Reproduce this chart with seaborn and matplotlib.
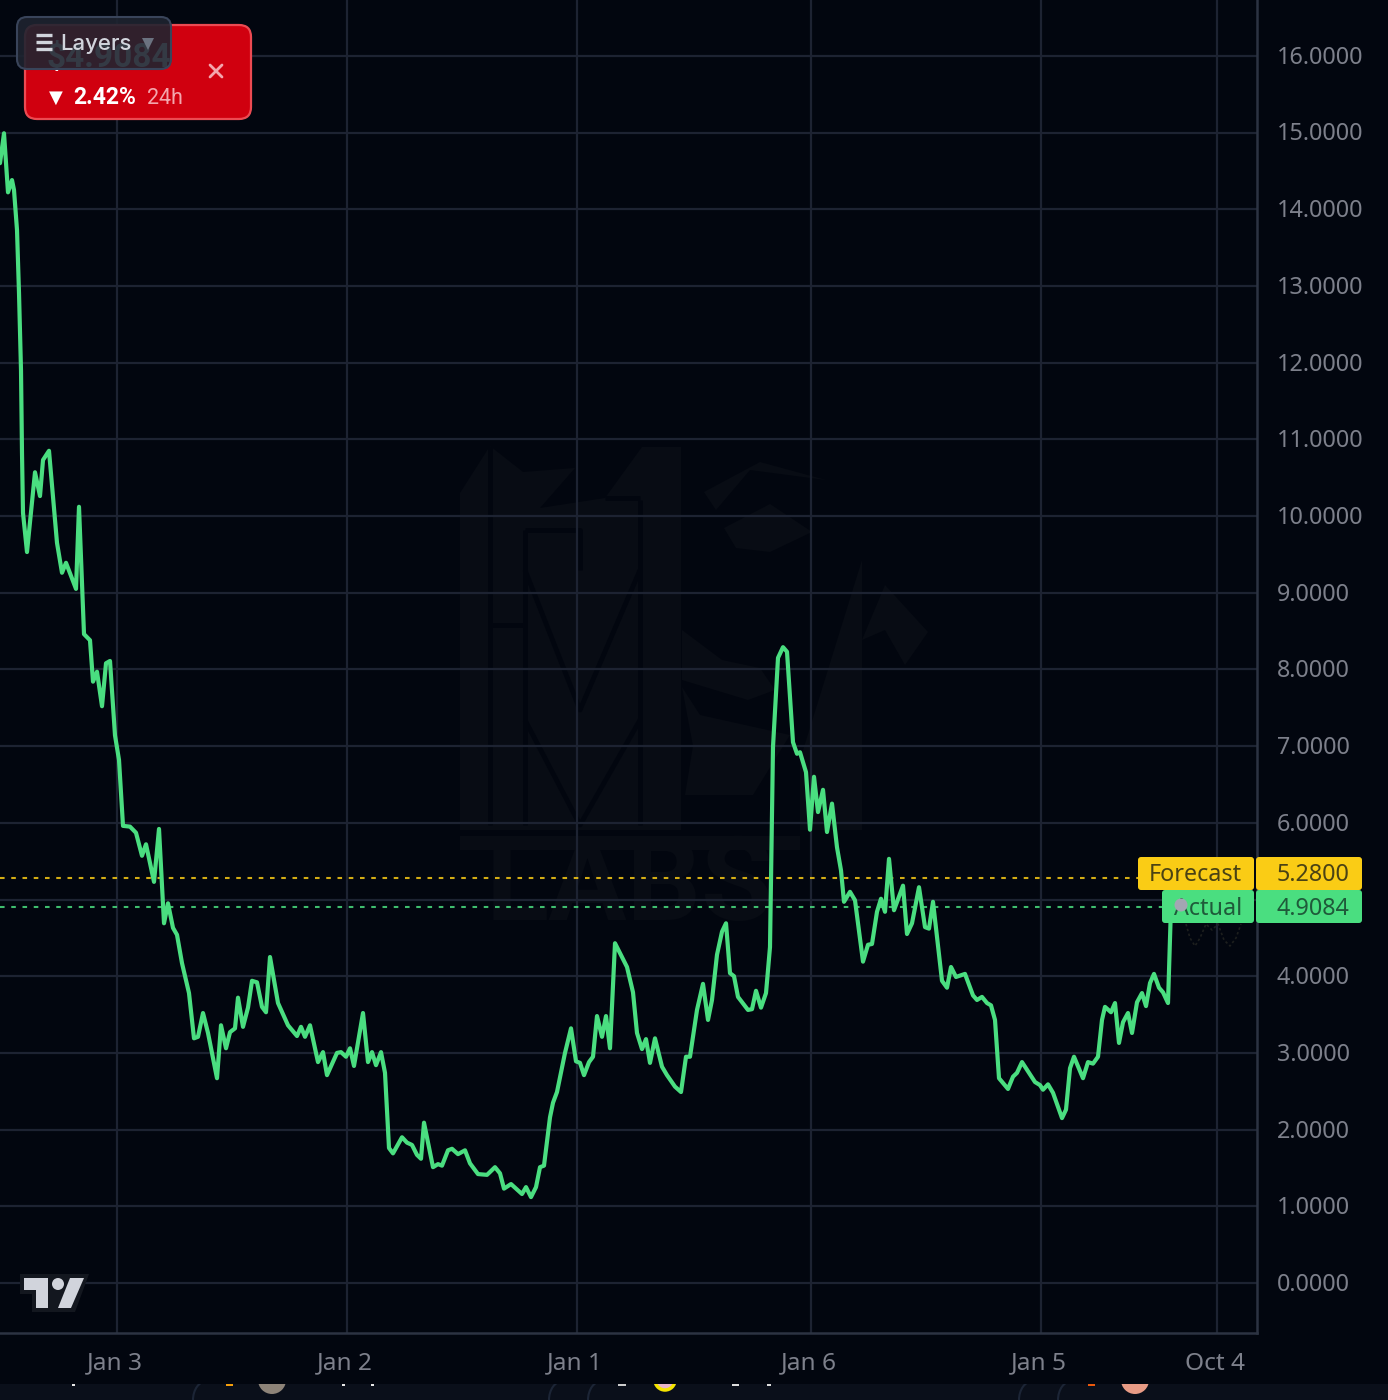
import matplotlib
matplotlib.use("Agg")
import matplotlib.pyplot as plt
from matplotlib.patches import FancyBboxPatch, Polygon, Circle, Rectangle, Arc
from matplotlib.transforms import ScaledTranslation
import pandas as pd
import seaborn as sns

# time axis is in chart units, one unit per screen column of the plot area
time_units = [0, 4, 8, 12, 14, 17, 19, 21, 22, 23, 27, 35, 40, 43, 49, 57, 62, 66, 76, 79,
              84, 90, 93, 97, 102, 106, 110, 115, 119, 123, 130, 136, 142, 146, 154, 159, 164, 168, 173, 177,
              182, 189, 194, 198, 203, 208, 217, 221, 226, 230, 235, 238, 243, 248, 252, 257, 262, 266, 270, 278,
              288, 297, 301, 305, 310, 318, 323, 327, 337, 341, 346, 350, 354, 363, 368, 372, 376, 381, 385, 389,
              393, 402, 407, 412, 417, 421, 424, 433, 438, 442, 448, 452, 458, 465, 470, 478, 487, 495, 500, 504,
              511, 522, 526, 531, 536, 540, 544, 550, 553, 557, 565, 571, 576, 580, 584, 589, 593, 597, 602, 606,
              610, 615, 627, 633, 637, 642, 646, 650, 655, 662, 667, 675, 681, 686, 690, 697, 703, 708, 712, 717,
              722, 726, 730, 734, 738, 748, 752, 756, 761, 766, 770, 773, 778, 783, 787, 793, 797, 800, 806, 810,
              814, 818, 823, 827, 832, 837, 841, 844, 850, 855, 863, 868, 872, 877, 881, 885, 889, 894, 903, 907,
              912, 919, 925, 929, 933, 942, 947, 951, 956, 965, 973, 977, 982, 987, 991, 995, 999, 1008, 1013, 1017,
              1022, 1035, 1040, 1043, 1048, 1053, 1062, 1066, 1070, 1074, 1083, 1088, 1093, 1098, 1102, 1105, 1111, 1115, 1119, 1123,
              1128, 1132, 1137, 1142, 1146, 1150, 1154, 1159, 1163, 1168, 1171]
price = [14.60, 14.99, 14.22, 14.38, 14.25, 13.73, 12.91, 11.90, 10.82, 10.04, 9.53, 10.57, 10.26, 10.73, 10.85, 9.65, 9.26, 9.39, 9.05, 10.12,
         8.46, 8.38, 7.84, 7.97, 7.52, 8.08, 8.11, 7.14, 6.82, 5.96, 5.95, 5.87, 5.57, 5.72, 5.23, 5.92, 4.69, 4.95, 4.63, 4.54,
         4.17, 3.78, 3.19, 3.21, 3.52, 3.26, 2.67, 3.36, 3.06, 3.27, 3.32, 3.72, 3.34, 3.59, 3.94, 3.92, 3.60, 3.53, 4.25, 3.65,
         3.36, 3.22, 3.34, 3.21, 3.36, 2.88, 3.01, 2.71, 3.00, 3.01, 2.95, 3.06, 2.83, 3.52, 2.88, 3.01, 2.84, 3.01, 2.74, 1.76,
         1.69, 1.90, 1.83, 1.80, 1.67, 1.62, 2.09, 1.51, 1.55, 1.53, 1.73, 1.75, 1.68, 1.73, 1.56, 1.42, 1.41, 1.51, 1.43, 1.23,
         1.29, 1.16, 1.25, 1.12, 1.25, 1.51, 1.53, 2.16, 2.35, 2.49, 3.00, 3.32, 2.89, 2.87, 2.71, 2.88, 2.95, 3.48, 3.21, 3.48,
         3.06, 4.43, 4.12, 3.79, 3.26, 3.05, 3.18, 2.87, 3.19, 2.82, 2.71, 2.56, 2.49, 2.95, 2.95, 3.56, 3.90, 3.43, 3.69, 4.28,
         4.58, 4.69, 4.04, 4.00, 3.73, 3.56, 3.57, 3.81, 3.59, 3.78, 4.38, 6.99, 8.15, 8.29, 8.23, 7.05, 6.90, 6.92, 6.66, 5.91,
         6.60, 6.14, 6.43, 5.88, 6.25, 5.68, 5.38, 4.97, 5.10, 4.99, 4.19, 4.41, 4.42, 4.84, 5.01, 4.84, 5.53, 4.86, 5.18, 4.55,
         4.69, 5.16, 4.64, 4.62, 4.97, 3.94, 3.85, 4.12, 3.99, 4.03, 3.75, 3.69, 3.73, 3.65, 3.62, 3.43, 2.67, 2.53, 2.69, 2.74,
         2.88, 2.62, 2.58, 2.52, 2.59, 2.48, 2.15, 2.26, 2.80, 2.95, 2.67, 2.88, 2.86, 2.95, 3.43, 3.60, 3.53, 3.65, 3.13, 3.40,
         3.52, 3.26, 3.66, 3.78, 3.61, 3.91, 4.03, 3.85, 3.79, 3.65, 4.91]

x_ticks = [117, 347, 577, 811, 1041, 1217]
x_labels = ["Jan 3", "Jan 2", "Jan 1", "Jan 6", "Jan 5", "Oct 4"]
y_ticks = list(range(0, 17))
# the 5.0000 label sits behind the price tags, so it never shows
y_labels = ["" if v == 5 else f"{v:.4f}" for v in y_ticks]
forecast = 5.28
actual = 4.9084

BG = "#02060f"
GRID = "#1d2332"
EDGE = "#2c3342"
TXT = "#7d808b"
GREEN = "#4ade80"
YELLOW = "#facc15"
MARK = "#080c14"

sns.set_theme(style="dark", rc={"axes.facecolor": "none", "figure.facecolor": BG})
plt.rcParams["font.family"] = ["Noto Sans", "DejaVu Sans"]

fig = plt.figure(figsize=(13.88, 14), dpi=100)

# screen overlay for watermark and chart furniture, measured in picture pixels
def overlay(z):
    a = fig.add_axes([0, 0, 1, 1], zorder=z)
    a.set_xlim(0, 1388)
    a.set_ylim(1400, 0)
    a.axis("off")
    a.patch.set_alpha(0)
    return a

back = overlay(0)
front = overlay(5)

# watermark
wm = [
    [(460, 493), (490, 446), (523, 472), (575, 468), (540, 508), (605, 498), (642, 447), (681, 447), (681, 830), (460, 830)],
    [(682, 630), (722, 660), (760, 668), (775, 690), (748, 700), (682, 680)],
    [(682, 687), (693, 746), (685, 795), (753, 795), (790, 735), (700, 715)],
    [(704, 492), (760, 462), (826, 480), (750, 470), (716, 510)],
    [(724, 528), (770, 504), (812, 532), (770, 552), (736, 548)],
    [(862, 560), (862, 830), (800, 830), (800, 760)],
    [(862, 640), (885, 585), (928, 632), (905, 665), (885, 630)],
    [(460, 836), (800, 836), (800, 850), (460, 850)],
]
for pts in wm:
    back.add_patch(Polygon(pts, closed=True, fc=MARK, ec="none"))
for seg in [[(490, 446), (490, 825)], [(525, 530), (525, 825)], [(525, 530), (580, 530), (580, 570)],
            [(640, 500), (640, 825)], [(525, 570), (580, 710), (640, 570)], [(525, 720), (580, 825), (640, 720)],
            [(490, 625), (525, 625)], [(605, 498), (640, 498)]]:
    back.plot(*zip(*seg), color=BG, lw=3.5, solid_capstyle="butt")
back.text(630, 888, "LABS", color=MARK, fontsize=84, fontweight="bold", family="Roboto", ha="center", va="center")

ax = fig.add_axes([0, 1 - 1333 / 1400, 1257 / 1388, 1333 / 1400], zorder=2)
ax.set_xlim(0, 1257)
ax.set_ylim((1283 - 1333) / 76.7, 1283 / 76.7)

df = pd.DataFrame({"time": time_units, "price": price})
ax.axhline(forecast, color=YELLOW, lw=1.5, dashes=(2.2, 3.2), alpha=0.85, zorder=2)
ax.axhline(actual, color=GREEN, lw=1.5, dashes=(2.2, 3.2), alpha=0.85, zorder=2)
sns.lineplot(data=df, x="time", y="price", color=GREEN, linewidth=3.0, estimator=None,
             sort=False, ax=ax, zorder=3)

ax.set_xticks(x_ticks)
ax.set_xticklabels(x_labels)
ax.yaxis.tick_right()
ax.set_yticks(y_ticks)
ax.set_yticklabels(y_labels)
ax.set_xlabel("")
ax.set_ylabel("")
ax.grid(True, color=GRID, lw=1.6)
ax.set_axisbelow(True)
ax.tick_params(axis="y", length=0, pad=14.3, labelsize=16.8, labelcolor=TXT)
ax.tick_params(axis="x", length=0, pad=13.5, labelsize=17.6, labelcolor=TXT)
nudge = ScaledTranslation(-2 / 100, 0, fig.dpi_scale_trans)
for lab in ax.get_xticklabels():
    lab.set_transform(lab.get_transform() + nudge)
nudge_up = ScaledTranslation(0, 1 / 100, fig.dpi_scale_trans)
for lab in ax.get_yticklabels():
    lab.set_transform(lab.get_transform() + nudge_up)
for side in ["top", "left"]:
    ax.spines[side].set_visible(False)
for side in ["right", "bottom"]:
    ax.spines[side].set_color(EDGE)
    ax.spines[side].set_linewidth(1.8)

# cut off page content below the chart
back.add_patch(Rectangle((0, 1384), 1388, 16, fc="#0a0f1a", ec="none"))
for cx, r in [(207, 14), (563, 14), (602, 14), (1033, 14), (1072, 14)]:
    back.add_patch(Arc((cx, 1400), 2 * r, 2 * r + 10, theta1=180, theta2=270, color="#1c2536", lw=1.5))
for x0, w, col in [(72, 3, "#e8e8e8"), (226, 7, "#f59e0b"), (342, 3, "#e8e8e8"), (371, 3, "#e8e8e8"),
                   (618, 8, "#cccccc"), (732, 7, "#dddddd"), (767, 4, "#dddddd"), (1088, 7, "#ea580c")]:
    back.add_patch(Rectangle((x0, 1384), w, 2, fc=col, ec="none"))
back.add_patch(Circle((272, 1380), 14, fc="#8d8378", ec="none"))
back.add_patch(Circle((665, 1380), 10, fc="#e8b4c8", ec="#f5e400", lw=2.5))
back.add_patch(Circle((1135, 1380), 14, fc="#e89b85", ec="none"))
back.add_patch(Rectangle((0, 1334), 1388, 50, fc=BG, ec="none", zorder=3))

# tradingview logo
front.add_patch(Polygon([(20, 1274), (89, 1274), (75, 1312), (32, 1312), (32, 1294), (20, 1294)], fc="#13171f", ec="none"))
front.add_patch(Polygon([(24, 1278), (48, 1278), (48, 1308), (36, 1308), (36, 1290), (24, 1290)], fc="#d1d4dc", ec="none"))
front.add_patch(Circle((58, 1284), 6, fc="#d1d4dc", ec="none"))
front.add_patch(Polygon([(70, 1278), (84, 1278), (71, 1308), (58, 1308)], fc="#d1d4dc", ec="none"))

# faint forecast trace under the price tags
front.plot([1186, 1190, 1195, 1200, 1206, 1212, 1218, 1224, 1230, 1236, 1241],
           [924, 938, 946, 938, 924, 930, 924, 940, 946, 938, 924], color="#1d1f1e", lw=1.2, ls=(0, (1.5, 1.5)))

def tag(x0, x1, y0, y1, color):
    front.add_patch(FancyBboxPatch((x0 + 3, y0 + 3), x1 - x0 - 6, y1 - y0 - 6, boxstyle="round,pad=3,rounding_size=3",
                                   fc=color, ec="none"))

TAG_TXT = "#4a4214"
tag(1138, 1254, 857, 890, YELLOW)
tag(1256, 1362, 857, 890, YELLOW)
tag(1162, 1254, 890, 923, GREEN)
tag(1256, 1362, 890, 923, GREEN)
front.text(1242, 875, "Forecast", color=TAG_TXT, fontsize=16.8, ha="right", va="center")
front.text(1349, 875, "5.2800", color=TAG_TXT, fontsize=16.8, ha="right", va="center")
front.text(1242, 909, "Actual", color="#1f5a3a", fontsize=16.8, ha="right", va="center")
front.text(1349, 909, "4.9084", color="#1f5a3a", fontsize=16.8, ha="right", va="center")
front.add_patch(Circle((1181, 905), 6.5, fc="#a3a6b3", ec="none", zorder=4))

# price card, sits under the layers button
front.add_patch(FancyBboxPatch((37, 37), 202, 70, boxstyle="round,pad=12,rounding_size=12",
                               fc="#d0000f", ec="#ec4a52", lw=1.6, zorder=6))
front.text(47, 58, "$4.9084", color="white", fontsize=24, fontweight="bold", family="Roboto",
           va="center", ha="left", zorder=7)
front.text(49, 98, "▼", color="white", fontsize=13, va="center", ha="left", zorder=7)
front.text(73, 98, "2.42%", color="white", fontsize=16.5, fontweight="bold", family="Roboto",
           va="center", ha="left", zorder=7)
front.text(147, 98, "24h", color="#f3a6ad", fontsize=15.5, family="Roboto", va="center", ha="left", zorder=7)
front.plot([210, 222], [65, 77], color="#f3a6ad", lw=2, zorder=7)
front.plot([210, 222], [77, 65], color="#f3a6ad", lw=2, zorder=7)

# layers button
front.add_patch(FancyBboxPatch((27, 27), 134, 32, boxstyle="round,pad=10,rounding_size=10",
                               fc="#1e2430", ec="none", alpha=0.9, zorder=8))
front.add_patch(FancyBboxPatch((27, 27), 134, 32, boxstyle="round,pad=10,rounding_size=10",
                               fc="none", ec="#39445a", lw=1.5, zorder=9))
for yy in [35, 42, 49]:
    front.plot([36, 52], [yy, yy], color="#d1d4dc", lw=2.4, solid_capstyle="butt", zorder=9)
front.text(60, 44, "Layers", color="#d1d4dc", fontsize=16, fontweight="medium", family="Inter",
           va="center", ha="left", zorder=9)
front.add_patch(Polygon([(142, 38), (154, 38), (148, 50)], fc="#6b7280", ec="none", zorder=9))

fig.savefig("out.png", dpi=100, facecolor=BG)
